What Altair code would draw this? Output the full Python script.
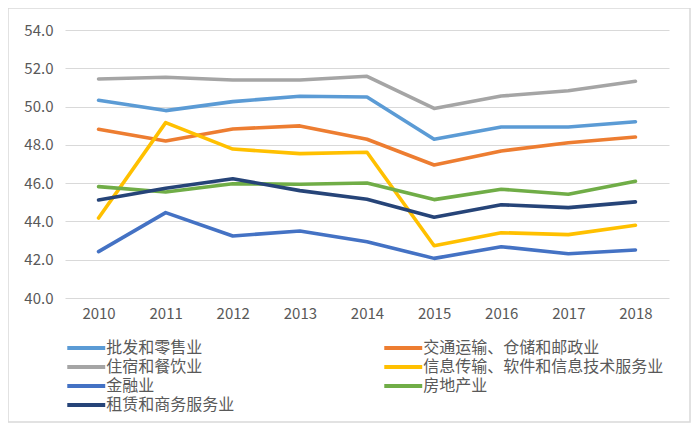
import altair as alt
import pandas as pd

years = ["2010", "2011", "2012", "2013", "2014", "2015", "2016", "2017", "2018"]

series_names = [
    "批发和零售业",
    "交通运输、仓储和邮政业",
    "住宿和餐饮业",
    "信息传输、软件和信息技术服务业",
    "金融业",
    "房地产业",
    "租赁和商务服务业",
]

wholesale = [50.33, 49.79, 50.26, 50.54, 50.50, 48.29, 48.93, 48.93, 49.21]
transport = [48.81, 48.20, 48.83, 48.99, 48.29, 46.95, 47.68, 48.11, 48.41]
hospitality = [51.44, 51.53, 51.39, 51.39, 51.58, 49.90, 50.55, 50.83, 51.32]
infotech = [44.18, 49.16, 47.78, 47.54, 47.61, 42.73, 43.41, 43.31, 43.80]
finance = [42.42, 44.46, 43.24, 43.50, 42.94, 42.07, 42.68, 42.31, 42.51]
realestate = [45.82, 45.54, 45.97, 45.94, 46.01, 45.14, 45.68, 45.42, 46.10]
leasing = [45.12, 45.73, 46.23, 45.61, 45.16, 44.22, 44.87, 44.72, 45.02]

colors = ["#5B9BD5", "#ED7D31", "#A5A5A5", "#FFC000", "#4472C4", "#70AD47", "#264478"]

all_values = [wholesale, transport, hospitality, infotech, finance, realestate, leasing]

# legend is filled column by column, so list entries in that order
legend_order = [series_names[i] for i in [0, 2, 4, 6, 1, 3, 5]]
legend_colors = [colors[i] for i in [0, 2, 4, 6, 1, 3, 5]]

rows = []
for idx, (name, vals) in enumerate(zip(series_names, all_values)):
    for y, v in zip(years, vals):
        rows.append({"year": y, "value": v, "series": name, "series_order": idx})
df = pd.DataFrame(rows)

FONT = "Noto Sans CJK SC"
GRAY_TEXT = "#595959"

lines = alt.Chart(df).mark_line(strokeWidth=3.6, strokeCap="round", strokeJoin="round").encode(
    x=alt.X("year:O", sort=years, title=None,
            axis=alt.Axis(labelAngle=0, labelFontSize=15, labelColor=GRAY_TEXT, labelFont=FONT,
                          ticks=False, domain=False, labelPadding=8)),
    y=alt.Y("value:Q", title=None,
            scale=alt.Scale(domain=[40, 54], nice=False, zero=False),
            axis=alt.Axis(values=[40, 42, 44, 46, 48, 50, 52, 54], format=".1f",
                          labelFontSize=15, labelColor=GRAY_TEXT, labelFont=FONT,
                          ticks=False, domain=False, labelPadding=12,
                          grid=True, gridColor="#d9d9d9", gridWidth=1)),
    color=alt.Color("series:N",
                    scale=alt.Scale(domain=legend_order, range=legend_colors),
                    legend=alt.Legend(title=None, orient="none", legendX=13.25, legendY=310,
                                      columns=2, columnPadding=141, rowPadding=3,
                                      symbolType="M-4,0H4", symbolSize=90, symbolStrokeWidth=4,
                                      labelFontSize=16, labelFont=FONT, labelColor=GRAY_TEXT,
                                      labelOffset=12, labelLimit=400)),
    detail="series_order:N",
)

frame = alt.Chart(pd.DataFrame({"a": [0]})).mark_rect(
    fill=None, stroke="#d9d9d9", strokeWidth=1.5
).encode(
    x=alt.value(-57), x2=alt.value(625), y=alt.value(-22), y2=alt.value(392)
)

chart = alt.layer(frame, lines).properties(
    width=604, height=268,
    padding={"left": 57, "top": 22, "right": 23, "bottom": 125},
    autosize=alt.AutoSizeParams(type="none"),
    background="white",
).configure_view(stroke=None)

chart.save("out.html", embed_options={"renderer": "svg", "actions": False})
